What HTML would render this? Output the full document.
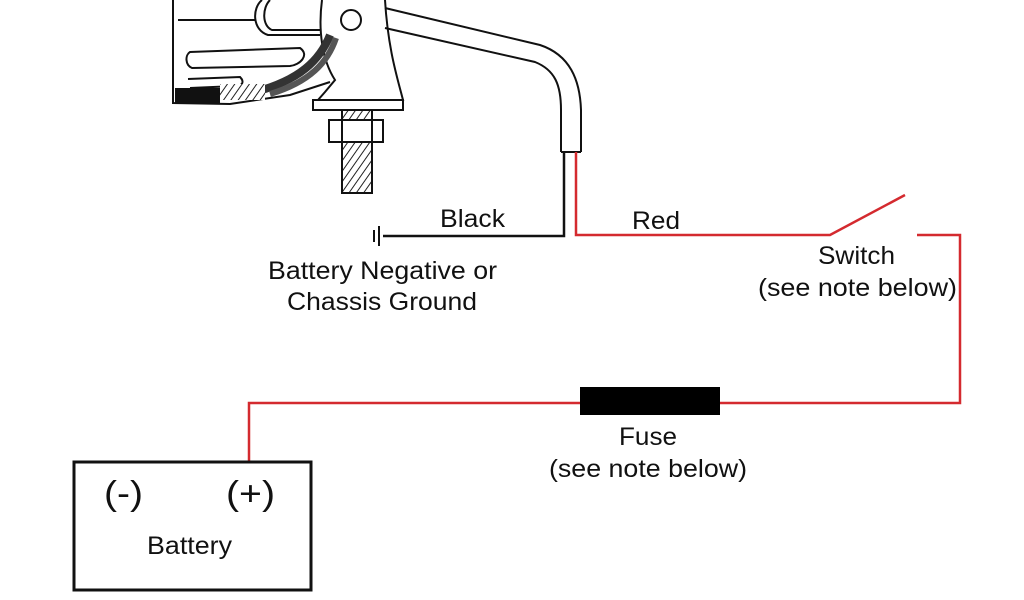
<!DOCTYPE html>
<html><head><meta charset="utf-8"><style>
html,body{margin:0;padding:0;background:#fff;width:1024px;height:600px;overflow:hidden}
svg{display:block}
text{font-family:"Liberation Sans",Arial,sans-serif;fill:#111}
</style></head><body>
<svg width="1024" height="600" viewBox="0 0 1024 600" xmlns="http://www.w3.org/2000/svg">
<defs>
<pattern id="hatch" width="6" height="6" patternUnits="userSpaceOnUse" patternTransform="rotate(35)">
<rect width="6" height="6" fill="#fff"/><line x1="0" y1="0" x2="0" y2="6" stroke="#222" stroke-width="2"/>
</pattern>
</defs>
<g fill="none" stroke="#111" stroke-width="2">
<path d="M173 0 V103 L230 104 L290 95 L330 82"/>
<line x1="178" y1="20" x2="255" y2="20"/>
<path d="M262 0 C252 8 252 30 268 35 L320 35"/>
<path d="M270 0 C262 8 262 26 272 30 L320 30"/>
<path d="M190 52 L300 48 C310 55 300 65 290 66 L192 68 C185 65 185 55 190 52Z"/>
<path d="M188 79 L240 77 C245 82 242 86 236 86 L190 88"/>
<path d="M322 0 C318 30 322 60 335 80 L325 92 L318 100 H403 C398 80 388 50 385 0"/>
<circle cx="351" cy="20" r="10"/>
<path d="M255 92 C300 80 320 60 330 35" stroke-width="8" stroke="#333"/>
<path d="M270 94 C310 82 328 62 336 38" stroke-width="6" stroke="#555"/>
<rect x="313" y="100" width="90" height="10"/>
<rect x="342" y="110" width="30" height="83" fill="url(#hatch)"/>
<rect x="329" y="120" width="54" height="22" fill="#fff"/>
<line x1="342" y1="120" x2="342" y2="142"/><line x1="372" y1="120" x2="372" y2="142"/>
<path d="M385 8 L540 45 C570 55 580 80 581 110 V152"/>
<path d="M385 28 L535 62 C555 70 561 85 561 110 V152"/>
<line x1="561" y1="152" x2="581" y2="152"/>
</g>
<rect x="175" y="88" width="45" height="16" fill="#111"/>
<rect x="220" y="84" width="45" height="16" fill="url(#hatch)"/>
<polyline points="564,152 564,236 383,236" fill="none" stroke="#111" stroke-width="2.5"/>
<line x1="379" y1="226" x2="379" y2="246" stroke="#111" stroke-width="2"/>
<line x1="374" y1="230" x2="374" y2="242" stroke="#111" stroke-width="2"/>
<g fill="none" stroke="#d42a2f" stroke-width="2.5">
<polyline points="576,152 576,235 830,235 905,195"/>
<polyline points="917,235 960,235 960,403 720,403"/>
<polyline points="580,403 249,403 249,462"/>
</g>
<rect x="580" y="387" width="140" height="28" fill="#000"/>
<rect x="74" y="462" width="237" height="128" fill="none" stroke="#111" stroke-width="3"/>
<g font-size="25" lengthAdjust="spacingAndGlyphs">
<text x="440" y="227" textLength="65" lengthAdjust="spacingAndGlyphs">Black</text>
<text x="632" y="229" textLength="48" lengthAdjust="spacingAndGlyphs">Red</text>
<text x="268" y="279" textLength="229" lengthAdjust="spacingAndGlyphs">Battery Negative or</text>
<text x="287" y="310" textLength="190" lengthAdjust="spacingAndGlyphs">Chassis Ground</text>
<text x="818" y="264" textLength="77" lengthAdjust="spacingAndGlyphs">Switch</text>
<text x="758" y="296" textLength="199" lengthAdjust="spacingAndGlyphs">(see note below)</text>
<text x="619" y="445" textLength="58" lengthAdjust="spacingAndGlyphs">Fuse</text>
<text x="549" y="477" textLength="198" lengthAdjust="spacingAndGlyphs">(see note below)</text>
<text x="147" y="554" textLength="85" lengthAdjust="spacingAndGlyphs">Battery</text>
</g>
<text x="104" y="505" font-size="34" textLength="39" lengthAdjust="spacingAndGlyphs">(-)</text>
<text x="226" y="505" font-size="34" textLength="49" lengthAdjust="spacingAndGlyphs">(+)</text>
</svg>
</body></html>
